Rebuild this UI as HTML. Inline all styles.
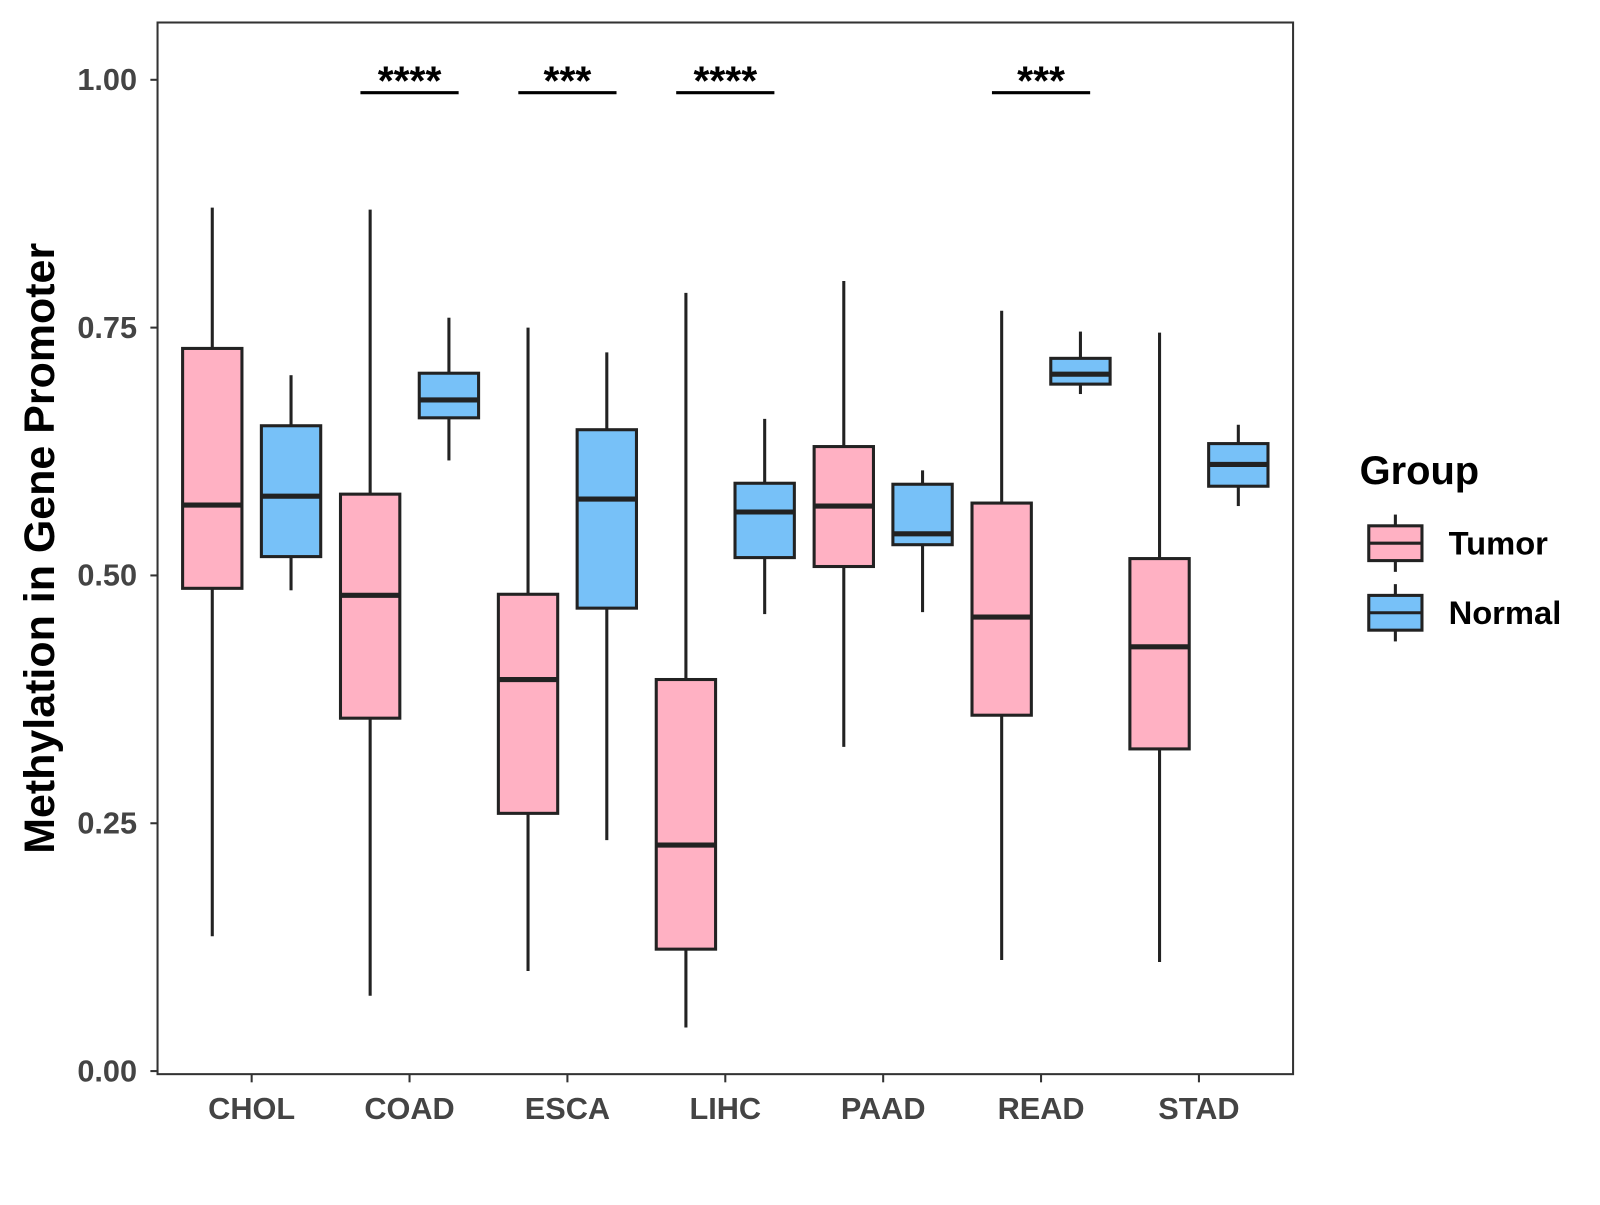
<!DOCTYPE html>
<html><head><meta charset="utf-8"><style>body{margin:0;background:#fff}svg text{font-family:"Liberation Sans",Arial,sans-serif;font-weight:bold}</style></head>
<body>
<svg width="1600" height="1200" viewBox="0 0 1600 1200"><g id="c" transform="scale(1.0230)"></g></svg>
<script>
const categories=["CHOL","COAD","ESCA","LIHC","PAAD","READ","STAD"];
// [whiskerHigh, q3, median, q1, whiskerLow]
const tumorStats=[[0.871,0.729,0.571,0.487,0.136],[0.869,0.582,0.480,0.356,0.076],[0.750,0.481,0.395,0.260,0.101],[0.785,0.395,0.228,0.123,0.044],[0.797,0.630,0.570,0.509,0.327],[0.767,0.573,0.458,0.359,0.112],[0.745,0.517,0.428,0.325,0.110]];
const normalStats=[[0.702,0.651,0.580,0.519,0.485],[0.760,0.704,0.677,0.659,0.616],[0.725,0.647,0.577,0.467,0.233],[0.658,0.593,0.564,0.518,0.461],[0.606,0.592,0.542,0.531,0.463],[0.746,0.719,0.703,0.693,0.683],[0.652,0.633,0.612,0.590,0.570]];
const sigLabels=["","****","***","****","","***",""];
const yTicks=[0,0.25,0.5,0.75,1.0];
const yTickLabels=["0.00","0.25","0.50","0.75","1.00"];
const sigLevel=0.987;

const NS="http://www.w3.org/2000/svg";
const svg=document.getElementById('c');
const L=154,R=1264,T=22,B=1050;
const y=v=>1047-v*969;
const x=i=>246+i*154.33;
function mk(tag,a,parent){const e=document.createElementNS(NS,tag);for(const k in a)e.setAttribute(k,a[k]);(parent||svg).appendChild(e);return e;}
const panel=mk('rect',{x:L,y:T,width:R-L,height:B-T,fill:'none',stroke:'#333','stroke-width':2});


yTicks.forEach((t,i)=>{
  const ln=mk('line',{x1:L-7,x2:L,y1:y(t),y2:y(t),stroke:'#333','stroke-width':2});
  
  
  const tx=mk('text',{x:L-20,y:y(t)+10,'text-anchor':'end','font-size':30,fill:'#444'});
  tx.textContent=yTickLabels[i];
  
  
});
categories.forEach((c,i)=>{
  const ln=mk('line',{x1:x(i),x2:x(i),y1:B,y2:B+8,stroke:'#333','stroke-width':2});
  
  
  const tx=mk('text',{x:x(i),y:1094,'text-anchor':'middle','font-size':30,fill:'#444'});
  tx.textContent=c;
  
  
});
function box(cx,s,fill,name){
  const g=mk('g',{});
  
  
  const w=29;
  mk('line',{x1:cx,x2:cx,y1:y(s[0]),y2:y(s[1]),stroke:'#222','stroke-width':3},g);
  mk('line',{x1:cx,x2:cx,y1:y(s[3]),y2:y(s[4]),stroke:'#222','stroke-width':3},g);
  mk('rect',{x:cx-w,y:y(s[1]),width:2*w,height:y(s[3])-y(s[1]),fill:fill,stroke:'#222','stroke-width':3},g);
  mk('line',{x1:cx-w,x2:cx+w,y1:y(s[2]),y2:y(s[2]),stroke:'#222','stroke-width':5},g);
}
categories.forEach((c,i)=>{
  box(x(i)-38.5,tumorStats[i],'#FFB1C3','box-tumor-'+c.toLowerCase());
  box(x(i)+38.5,normalStats[i],'#77C1F8','box-normal-'+c.toLowerCase());
  if(sigLabels[i]){
    const ln=mk('line',{x1:x(i)-48,x2:x(i)+48,y1:y(sigLevel),y2:y(sigLevel),stroke:'#000','stroke-width':3});
    
    
    const tx=mk('text',{x:x(i),y:y(sigLevel)+2,'text-anchor':'middle','font-size':40,fill:'#000'});
    tx.textContent=sigLabels[i];
    
    
  }
});
const yt=mk('text',{x:0,y:0,transform:'translate(53,536) rotate(-90)','text-anchor':'middle','font-size':42,fill:'#000'});
yt.textContent='Methylation in Gene Promoter';


const lt=mk('text',{x:1329,y:473,'font-size':39,fill:'#000'});
lt.textContent='Group';


[['Tumor','#FFB1C3',531],['Normal','#77C1F8',599]].forEach(([n,f,cy])=>{
  const g=mk('g',{});
  
  
  mk('line',{x1:1364,x2:1364,y1:cy-28,y2:cy+28,stroke:'#222','stroke-width':3},g);
  mk('rect',{x:1338,y:cy-17,width:52,height:34,fill:f,stroke:'#222','stroke-width':3},g);
  mk('line',{x1:1338,x2:1390,y1:cy,y2:cy,stroke:'#222','stroke-width':3},g);
  const t=mk('text',{x:1416,y:cy+11,'font-size':32,fill:'#000'},g);t.textContent=n;
});
</script>
</body></html>
